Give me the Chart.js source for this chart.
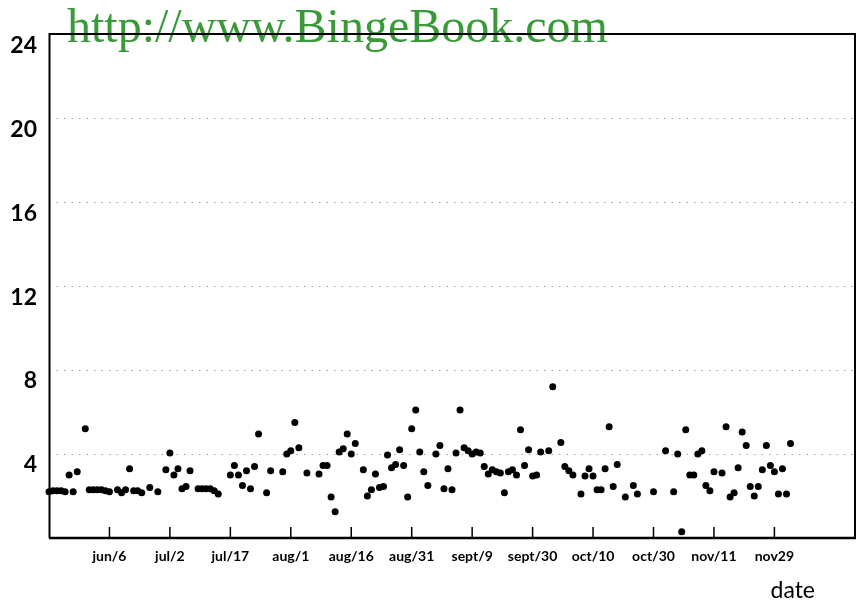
<!DOCTYPE html>
<html>
<head>
<meta charset="utf-8">
<script src="https://cdn.jsdelivr.net/npm/chart.js@4"></script>
<style>
  body { margin: 0; background: #fff; }
  #wrap { width: 859px; height: 604px; position: relative; }
</style>
</head>
<body>
<div id="wrap"><canvas id="dotCanvas"></canvas></div>
<script>
// day number along the x axis (15 days between labelled ticks)
const days = [0,1,2,3,4,5,6,7,9,10,
  11,12,13,14,15,17,18,19,20,21,
  22,23,25,27,29,30,31,32,33,34,
  35,37,38,39,40,41,42,45,46,47,
  48,49,50,51,52,54,55,58,59,60,
  61,62,64,67,68,69,70,71,72,73,
  74,75,76,78,79,80,81,82,83,84,
  85,86,87,88,89,90,91,92,93,94,
  96,97,98,99,100,101,102,103,104,105,
  106,107,108,109,110,111,112,113,114,115,
  116,117,118,119,120,121,122,124,125,127,
  128,129,130,132,133,134,135,136,137,138,
  139,140,141,143,145,146,150,153,155,156,
  157,158,159,160,161,162,163,164,165,167,
  168,169,170,171,172,173,174,175,176,177,
  178,179,180,181,182,183,184];

const values = [2.2,2.25,2.25,2.25,2.2,3.0,2.2,3.15,5.2,2.3,
  2.3,2.3,2.3,2.25,2.2,2.3,2.15,2.3,3.3,2.25,
  2.25,2.15,2.4,2.2,3.25,4.05,3.0,3.3,2.35,2.45,
  3.2,2.35,2.35,2.35,2.35,2.25,2.1,3.0,3.45,3.0,
  2.5,3.2,2.35,3.4,4.95,2.15,3.2,3.15,4.0,4.15,
  5.5,4.3,3.1,3.05,3.45,3.45,1.95,1.25,4.1,4.25,
  4.95,4.0,4.5,3.25,2.0,2.3,3.05,2.4,2.45,3.95,
  3.35,3.5,4.2,3.45,1.95,5.2,6.1,4.1,3.15,2.5,
  4.0,4.4,2.35,3.3,2.3,4.05,6.1,4.3,4.15,4.0,
  4.1,4.05,3.4,3.05,3.25,3.15,3.1,2.15,3.15,3.25,
  3.0,5.15,3.45,4.2,2.95,3.0,4.1,4.15,7.2,4.55,
  3.4,3.2,3.0,2.1,2.95,3.3,2.95,2.3,2.3,3.3,
  5.3,2.45,3.5,1.95,2.5,2.1,2.2,4.15,2.2,4.0,
  0.3,5.15,3.0,3.0,4.0,4.15,2.5,2.25,3.15,3.1,
  5.3,1.95,2.15,3.35,5.05,4.4,2.45,2.0,2.45,3.25,
  4.4,3.45,3.15,2.1,3.3,2.1,4.5];

const dateLabels = ['jun/6','jul/2','jul/17','aug/1','aug/16','aug/31',
  'sept/9','sept/30','oct/10','oct/30','nov/11','nov29'];
const yTicks = [4, 8, 12, 16, 20, 24];

const DAY_STEP = 15;

// box around the plot, little inward tick marks, the axis name and the site banner
const framePlugin = {
  id: 'frame',
  beforeDraw(chart) {
    const ctx = chart.ctx;
    ctx.save();
    ctx.fillStyle = 'rgb(58,154,58)';
    ctx.font = '48px "Liberation Serif", serif';
    ctx.textBaseline = 'alphabetic';
    ctx.textAlign = 'left';
    ctx.fillText('http://www.BingeBook.com', 67, 42);
    ctx.restore();
  },
  beforeDatasetsDraw(chart) {
    const { ctx, chartArea: a, scales } = chart;
    ctx.save();
    ctx.strokeStyle = '#000';
    ctx.lineWidth = 2;
    ctx.beginPath();
    ctx.moveTo(a.left + 0.5, a.top);
    ctx.lineTo(a.right, a.top);
    ctx.lineTo(a.right, a.bottom);
    ctx.stroke();
    ctx.beginPath();
    ctx.moveTo(a.left + 0.5, a.top - 1);
    ctx.lineTo(a.left + 0.5, a.bottom);
    ctx.stroke();
    ctx.lineWidth = 2.5;
    ctx.beginPath();
    ctx.moveTo(a.left, a.bottom);
    ctx.lineTo(a.right + 1, a.bottom);
    ctx.stroke();

    ctx.lineWidth = 1.5;
    scales.x.ticks.forEach(t => {
      if (t.value <= 0 || t.value >= scales.x.max) return;
      const px = scales.x.getPixelForValue(t.value);
      ctx.beginPath();
      ctx.moveTo(px, a.bottom);
      ctx.lineTo(px, a.bottom - 11);
      ctx.stroke();
    });

    ctx.fillStyle = '#000';
    ctx.font = '23px Lato, sans-serif';
    ctx.textAlign = 'right';
    ctx.textBaseline = 'middle';
    ctx.fillText('date', 815, 591);
    ctx.restore();
  }
};

new Chart(document.getElementById('dotCanvas'), {
  type: 'scatter',
  data: {
    datasets: [{
      data: days.map((d, i) => ({ x: d, y: values[i] })),
      backgroundColor: '#000',
      borderWidth: 0,
      pointRadius: 3.5,
      clip: false
    }]
  },
  options: {
    responsive: true,
    maintainAspectRatio: false,
    animation: false,
    layout: { padding: { left: 0, right: 1.5, top: 33, bottom: 36 } },
    plugins: { legend: { display: false }, tooltip: { enabled: false } },
    scales: {
      x: {
        type: 'linear',
        min: 0,
        max: 200,
        afterFit: s => {
          s.height = 30;
          s.paddingLeft = 0;
          s.paddingRight = 0;
        },
        grid: { display: false, drawTicks: false },
        border: { display: false },
        ticks: {
          stepSize: DAY_STEP,
          autoSkip: false,
          maxRotation: 0,
          padding: 10,
          color: '#000',
          font: { family: 'Lato', size: 14, weight: 'bold' },
          callback: v => dateLabels[v / DAY_STEP - 1] || ''
        }
      },
      y: {
        min: 0,
        max: 24,
        afterFit: s => { s.width = 49; },
        grid: {
          drawTicks: false,
          color: c => (c.tick && c.tick.value > 0 && c.tick.value < 24) ? 'rgba(0,0,0,0.38)' : 'rgba(0,0,0,0)'
        },
        border: { display: false, dash: [1.5, 6] },
        afterBuildTicks: s => { s.ticks = [0].concat(yTicks).map(v => ({ value: v })); },
        ticks: {
          padding: 12,
          color: '#000',
          font: { family: 'Lato', size: 23, weight: 'bold', lineHeight: 0.96 },
          callback: v => v === 0 ? '' : ['', String(v)]
        }
      }
    }
  },
  plugins: [framePlugin]
});
</script>
</body>
</html>
